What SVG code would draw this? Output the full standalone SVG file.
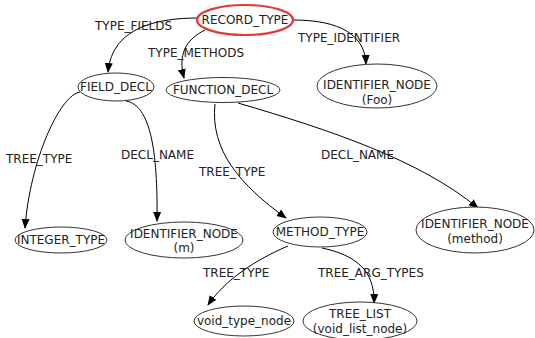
<svg xmlns="http://www.w3.org/2000/svg" width="535" height="338" viewBox="0 0 535 338">
<style>
text{font-family:"DejaVu Sans",sans-serif;font-size:12px;fill:#222}
.n ellipse{fill:#fff;stroke:#333;stroke-width:1}
.n text{text-anchor:middle}
#record_type ellipse{stroke:#e03b3b;stroke-width:2.2}
#edges path{fill:none;stroke:#000;stroke-width:1;marker-end:url(#arr)}
</style>
<defs>
<marker id="arr" markerUnits="userSpaceOnUse" markerWidth="10" markerHeight="10" viewBox="0 0 10 10" refX="9" refY="5" orient="auto">
<path d="M0,1 L10,5 L0,9 Z" fill="#000"/>
</marker>
</defs>
<rect width="535" height="338" fill="#fff"/>
<g id="edges">
<path d="M198,18 C160,18 112,26 108,72"/>
<path d="M205,30 C185,40 178,55 184,78"/>
<path d="M293,20 C340,20 365,35 366,64"/>
<path d="M80,92 C60,95 30,160 25,228"/>
<path d="M126,101 C150,105 158,150 157,221"/>
<path d="M215,104 C210,150 240,185 286,218"/>
<path d="M238,103 C330,130 420,160 478,208"/>
<path d="M288,246 C255,260 225,280 208,305"/>
<path d="M322,248 C355,255 375,270 374,303"/>
<text x="95" y="30">TYPE_FIELDS</text>
<text x="148" y="57">TYPE_METHODS</text>
<text x="298" y="42">TYPE_IDENTIFIER</text>
<text x="6" y="163">TREE_TYPE</text>
<text x="121" y="159">DECL_NAME</text>
<text x="199" y="176">TREE_TYPE</text>
<text x="321" y="159">DECL_NAME</text>
<text x="203" y="277">TREE_TYPE</text>
<text x="318" y="277">TREE_ARG_TYPES</text>
</g>
<g id="record_type" class="n"><ellipse cx="245" cy="20" rx="48" ry="15"/><text x="245" y="24">RECORD_TYPE</text></g>
<g id="field_decl" class="n"><ellipse cx="116" cy="87" rx="38" ry="14"/><text x="116" y="91">FIELD_DECL</text></g>
<g id="function_decl" class="n"><ellipse cx="223" cy="90" rx="57" ry="12.5"/><text x="223" y="94">FUNCTION_DECL</text></g>
<g id="identifier_foo" class="n"><ellipse cx="377" cy="86" rx="60" ry="22"/><text x="377" y="89">IDENTIFIER_NODE</text><text x="377" y="104">(Foo)</text></g>
<g id="integer_type" class="n"><ellipse cx="61" cy="240" rx="46" ry="13"/><text x="61" y="244">INTEGER_TYPE</text></g>
<g id="identifier_m" class="n"><ellipse cx="184" cy="240" rx="59" ry="18"/><text x="184" y="238">IDENTIFIER_NODE</text><text x="184" y="252">(m)</text></g>
<g id="method_type" class="n"><ellipse cx="320" cy="232" rx="47" ry="15"/><text x="320" y="236">METHOD_TYPE</text></g>
<g id="identifier_method" class="n"><ellipse cx="475" cy="230" rx="59" ry="23"/><text x="475" y="228">IDENTIFIER_NODE</text><text x="475" y="243">(method)</text></g>
<g id="void_type_node" class="n"><ellipse cx="244" cy="321" rx="50" ry="15"/><text x="244" y="325">void_type_node</text></g>
<g id="tree_list" class="n"><ellipse cx="360" cy="321" rx="57" ry="19"/><text x="360" y="318">TREE_LIST</text><text x="360" y="333">(void_list_node)</text></g>
</svg>
